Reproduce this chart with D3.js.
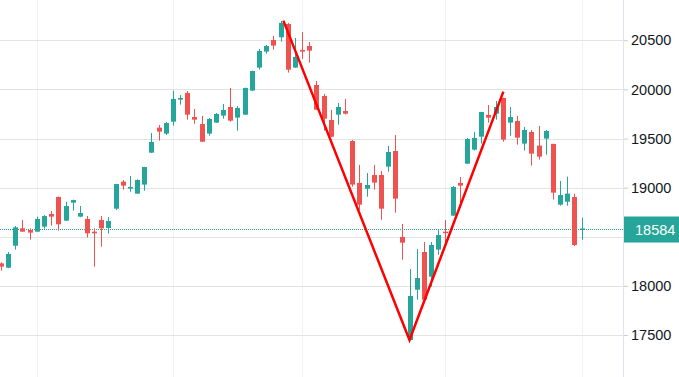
<!DOCTYPE html>
<html>
<head>
<meta charset="utf-8">
<script src="https://cdn.jsdelivr.net/npm/d3@7"></script>
<style>
  html, body { margin: 0; padding: 0; background: #fff; }
  svg { display: block; }
</style>
</head>
<body>
<svg id="chart" width="679" height="377"></svg>
<script>
const opens  = [18229,18185,18409,18586,18569,18552,18603,18732,18905,18664,18847,18705,18681,18552,18671,18589,18786,19061,18990,18939,19031,19356,19611,19550,19672,19896,19964,19719,19648,19550,19662,19733,19821,19713,19743,19988,20222,20385,20503,20531,20666,20222,20402,20442,20045,19933,19689,19743,19781,19475,19048,18990,19129,19129,19214,19373,18498,17449,17961,18345,18094,18369,18552,18715,19048,19244,19387,19519,19740,19753,19913,19662,19679,19448,19567,19428,19499,19445,18827,18857,18905,18575];
const highs  = [18240,18345,18610,18671,18586,18705,18722,18762,18910,18857,18878,18813,18711,18586,18711,18701,19040,19078,19119,19085,19212,19556,19638,19669,19988,19943,19984,19801,19730,19709,19760,19852,20015,19831,20018,20190,20412,20453,20544,20697,20677,20524,20585,20483,20086,19954,19791,19862,19903,19485,19231,19149,19231,19170,19424,19536,18630,18172,18375,18447,18447,18569,18671,19017,19109,19506,19567,19773,19842,19882,19916,19821,19730,19618,19587,19628,19587,19448,19068,19112,18939,18694];
const lows   = [18155,18180,18369,18550,18470,18550,18582,18613,18562,18660,18766,18700,18491,18196,18399,18532,18772,18980,18959,18935,18969,19352,19478,19536,19631,19845,19692,19651,19465,19529,19660,19702,19672,19580,19740,19985,20201,20364,20405,20486,20171,20220,20310,20273,19790,19580,19515,19641,19745,19010,18772,18908,18980,18674,19163,18745,18267,17445,17860,17855,17992,18318,18440,18712,18847,19240,19377,19448,19662,19692,19468,19529,19438,19377,19224,19285,19336,18878,18816,18816,18406,18470];
const closes = [18196,18325,18596,18552,18542,18681,18711,18705,18627,18813,18874,18742,18535,18535,18586,18661,19037,19020,19007,19078,19210,19465,19570,19658,19903,19913,19743,19692,19468,19699,19750,19791,19682,19811,20015,20188,20391,20442,20446,20677,20201,20330,20385,20395,19794,19702,19519,19821,19753,19031,18827,19027,19051,18786,19363,18888,18440,17897,18080,17860,18416,18518,18545,19007,19020,19495,19506,19770,19713,19821,19489,19719,19509,19587,19346,19316,19577,18949,18925,18939,18416,18584];

const priceTicks   = [17500, 18000, 18500, 19000, 19500, 20000, 20500];
const monthGridIdx = [5, 24, 42, 62, 81];
const patternIdx   = [39.4, 57, 70.1];
const patternPrice = [20700, 17449, 19977];
const lastPrice    = 18584;

const W = 679, H = 377;
const plotRight = 624;
const upColor = "#26a69a", downColor = "#ef5350";

const svg = d3.select("#chart");
const n = closes.length;
const x = d3.scaleLinear().domain([0, n - 1]).range([1, 581.5]);
const y = d3.scaleLinear().domain([17500, 20500]).range([335, 40.3]);

// vertical grid
svg.append("g").selectAll("line").data(monthGridIdx).join("line")
  .attr("x1", d => Math.round(x(d)) + 0.5).attr("x2", d => Math.round(x(d)) + 0.5)
  .attr("y1", 0).attr("y2", H)
  .attr("stroke", "#eef1f6").attr("stroke-width", 1);

// horizontal grid
svg.append("g").selectAll("line").data(priceTicks).join("line")
  .attr("x1", 0).attr("x2", plotRight)
  .attr("y1", d => Math.round(y(d)) + 0.5).attr("y2", d => Math.round(y(d)) + 0.5)
  .attr("stroke", "#e3e3e3").attr("stroke-width", 1);

// last price dotted line
svg.append("line")
  .attr("x1", 0).attr("x2", plotRight)
  .attr("y1", Math.round(y(lastPrice)) + 0.5).attr("y2", Math.round(y(lastPrice)) + 0.5)
  .attr("stroke", upColor).attr("stroke-width", 1).attr("stroke-dasharray", "1,1");

// candles
const data = d3.range(n).map(i => ({i, o: opens[i], h: highs[i], l: lows[i], c: closes[i]}));
const cg = svg.append("g").selectAll("g").data(data).join("g");
cg.append("line")
  .attr("x1", d => Math.round(x(d.i)) + 0.5).attr("x2", d => Math.round(x(d.i)) + 0.5)
  .attr("y1", d => y(d.h)).attr("y2", d => y(d.l))
  .attr("stroke", d => d.c >= d.o ? upColor : downColor).attr("stroke-width", 1);
cg.append("rect")
  .attr("x", d => Math.round(x(d.i)) - 2).attr("width", 5)
  .attr("y", d => y(Math.max(d.o, d.c)))
  .attr("height", d => Math.max(1.5, Math.abs(y(d.o) - y(d.c))))
  .attr("fill", d => d.c >= d.o ? upColor : downColor);

// pattern line
svg.append("path")
  .datum(patternIdx.map((d, k) => [d, patternPrice[k]]))
  .attr("d", d3.line().x(d => x(d[0])).y(d => y(d[1])))
  .attr("fill", "none").attr("stroke", "#ff0000").attr("stroke-width", 2.5)
  .attr("stroke-linejoin", "miter");

// price axis (tick labels hidden where the last-price label sits, as in the reference)
svg.append("line")
  .attr("x1", plotRight - 0.5).attr("x2", plotRight - 0.5).attr("y1", 0).attr("y2", H)
  .attr("stroke", "#e0e3eb");
const visibleTicks = priceTicks.filter(t => Math.abs(y(t) - y(lastPrice)) > 16);
const axis = d3.axisRight(y).tickValues(visibleTicks).tickSize(4).tickPadding(3).tickFormat(d3.format("d"));
const ag = svg.append("g").attr("transform", `translate(${plotRight},0)`).call(axis);
ag.select(".domain").remove();
ag.selectAll(".tick line").attr("stroke", "#c9ccd3");
ag.selectAll(".tick text")
  .attr("font-family", "'Liberation Sans', Arial, sans-serif")
  .attr("font-size", 14.5).attr("fill", "#131722");

// last price label
const ly = y(lastPrice);
svg.append("rect").attr("x", plotRight).attr("y", ly - 12).attr("width", W - plotRight).attr("height", 26)
  .attr("fill", upColor);
svg.append("text").attr("x", 635).attr("y", ly + 1).attr("dy", "0.35em")
  .attr("font-family", "'Liberation Sans', Arial, sans-serif").attr("font-size", 14.5)
  .attr("fill", "#ffffff").text(d3.format("d")(lastPrice));
</script>
</body>
</html>
